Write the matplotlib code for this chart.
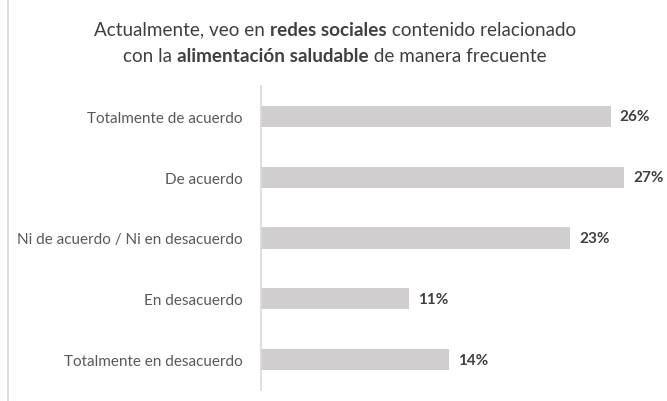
import matplotlib
matplotlib.use("Agg")
import matplotlib.pyplot as plt
from matplotlib.lines import Line2D

categories = [
    "Totalmente de acuerdo",
    "De acuerdo",
    "Ni de acuerdo / Ni en desacuerdo",
    "En desacuerdo",
    "Totalmente en desacuerdo",
]
values = [26, 27, 23, 11, 14]
value_labels = ["26%", "27%", "23%", "11%", "14%"]

title_lines = [
    [("Actualmente, veo en ", "normal"), ("redes sociales", "bold"),
     (" contenido relacionado", "normal")],
    [("con la ", "normal"), ("alimentación saludable", "bold"),
     (" de manera frecuente", "normal")],
]

FONT = "Lato"
BAR_COLOR = "#D0CECE"
TEXT_COLOR = "#595959"
VALUE_COLOR = "#404040"

W, H = 667, 402
fig = plt.figure(figsize=(W / 100, H / 100), dpi=100)
fig.patch.set_facecolor("white")

ax = fig.add_axes([261 / W, (H - 391) / H, 405 / W, 304 / H])
ypos = list(range(len(categories)))
ax.barh(ypos, values, height=0.35, color=BAR_COLOR, zorder=2)
ax.set_xlim(0, 30.1)
ax.set_ylim(len(categories) - 0.5, -0.5)

for s in ["top", "right", "bottom"]:
    ax.spines[s].set_visible(False)
ax.spines["left"].set_color("#D9D9D9")
ax.spines["left"].set_linewidth(1.2)
ax.set_xticks([])
ax.set_yticks(ypos)
ax.set_yticklabels(categories, fontname=FONT, fontsize=11, color=TEXT_COLOR)
ax.tick_params(axis="y", length=0, pad=13)

for y, v, lab in zip(ypos, values, value_labels):
    ax.annotate(lab, (v, y), xytext=(6.5, 0), textcoords="offset points",
                ha="left", va="center", fontname=FONT, fontsize=11,
                fontweight="bold", color=VALUE_COLOR)

# thin frame line on the left edge
fig.add_artist(Line2D([8 / W, 8 / W], [0, 1], transform=fig.transFigure,
                      color="#D9D9D9", linewidth=1.2))

# title with mixed bold segments, each line centred
renderer = fig.canvas.get_renderer()
center_x = 335
line_y = [H - 30, H - 56]
for segs, yp in zip(title_lines, line_y):
    texts = []
    for s, w in segs:
        t = fig.text(0, yp / H, s, fontname=FONT, fontsize=13.6, fontweight=w,
                     color=VALUE_COLOR, ha="left", va="center")
        texts.append(t)
    widths = [t.get_window_extent(renderer).width for t in texts]
    total = sum(widths)
    x = center_x - total / 2
    for t, wd in zip(texts, widths):
        t.set_x(x / W)
        x += wd

fig.savefig("out.png", dpi=100, facecolor="white")
